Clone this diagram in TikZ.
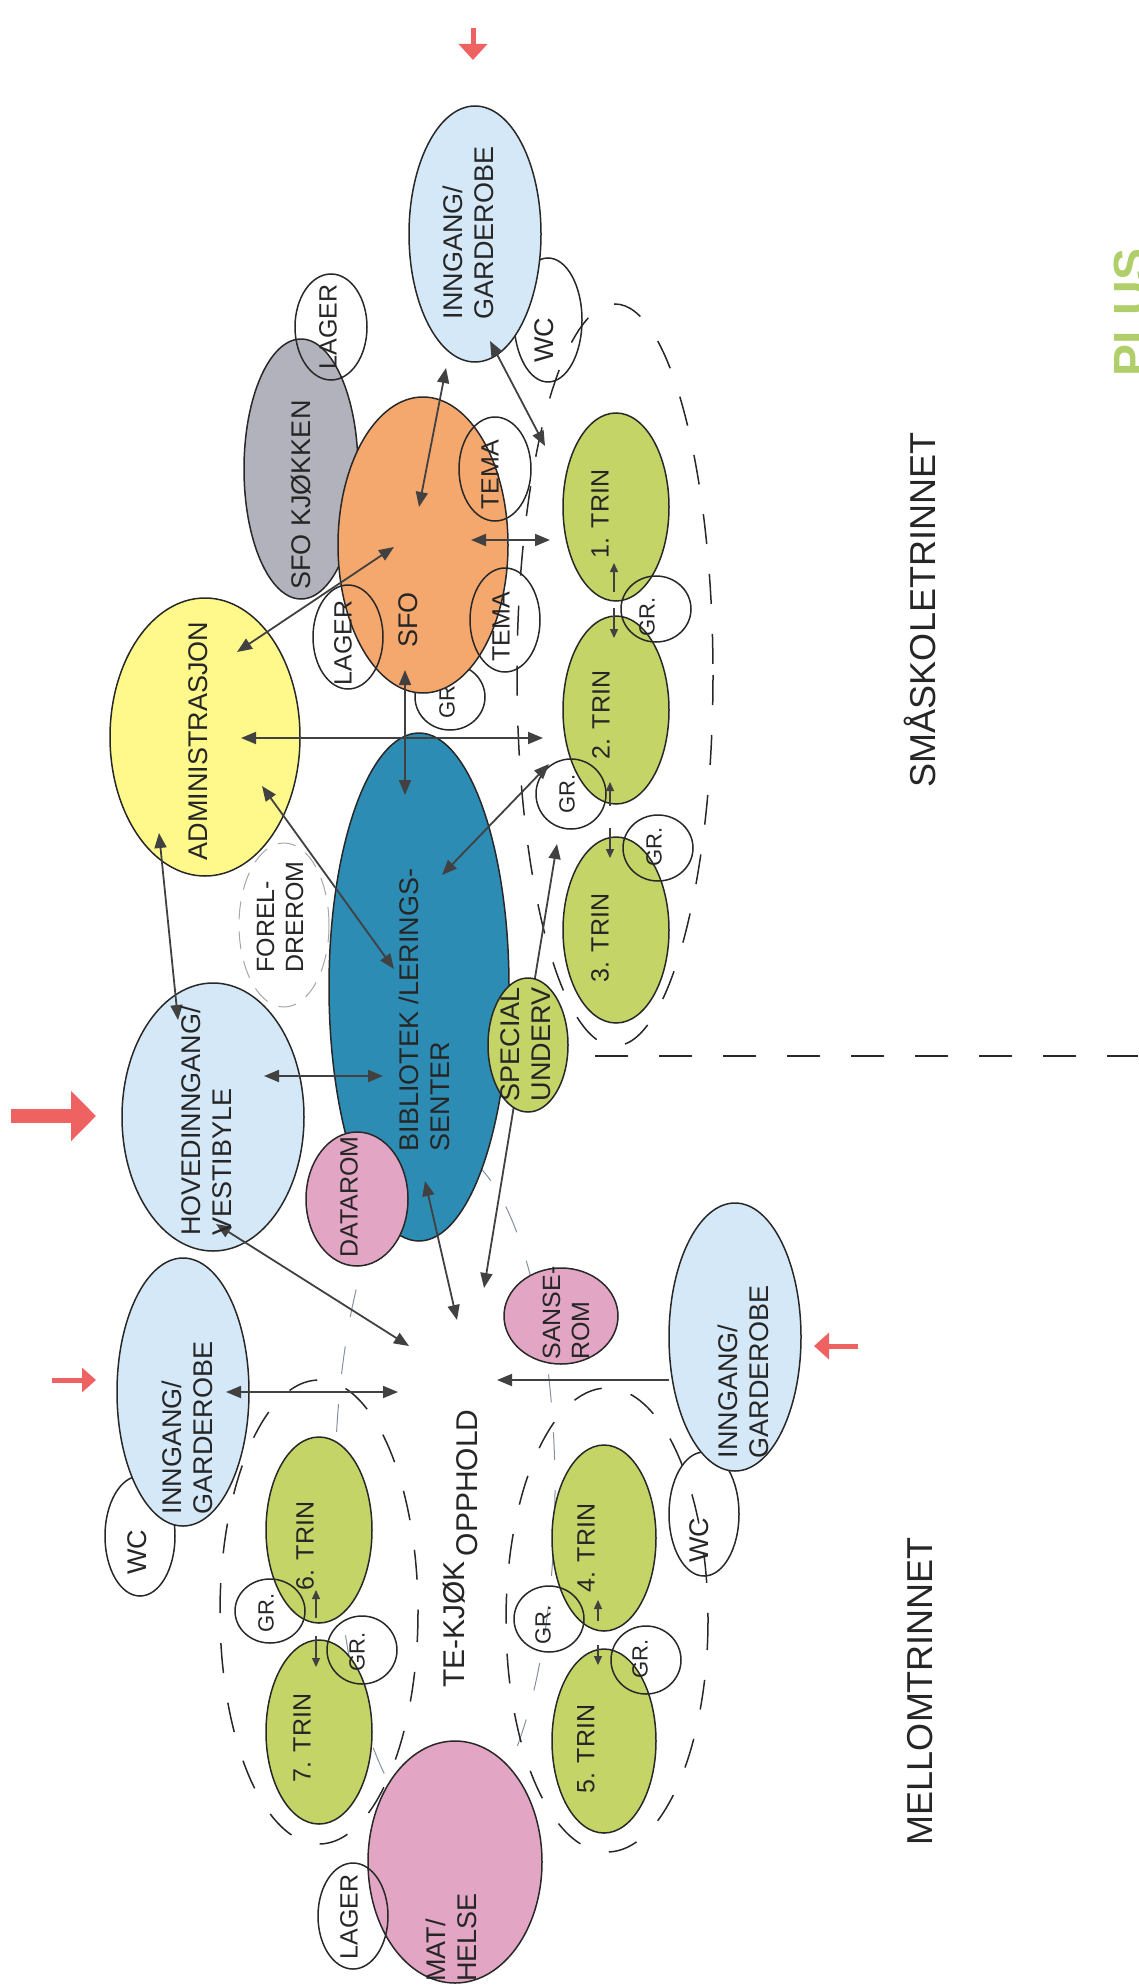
\documentclass[tikz,border=0pt]{standalone}
\usepackage{fontspec}
\setmainfont{Liberation Sans}
\usetikzlibrary{shapes.geometric,arrows.meta}
\definecolor{lblue}{RGB}{213,232,247}
\definecolor{yel}{RGB}{255,249,140}
\definecolor{ora}{RGB}{245,168,110}
\definecolor{kgrey}{RGB}{178,178,188}
\definecolor{teal2}{RGB}{44,140,180}
\definecolor{grn}{RGB}{196,212,102}
\definecolor{pnk}{RGB}{226,166,196}
\definecolor{redc}{RGB}{238,98,98}
\definecolor{linec}{RGB}{40,40,40}
\definecolor{arrc}{RGB}{65,65,65}
\definecolor{faint}{RGB}{130,145,160}
\definecolor{plusg}{RGB}{176,207,106}
\begin{document}
\begin{tikzpicture}[x=1pt,y=-1pt,
  room/.style={ellipse, draw=linec, line width=1.5pt, inner sep=0pt},
  lbl/.style={rotate=90, align=left, inner sep=0pt, text=black!85,
    font=\fontsize{27}{31}\selectfont},
  smlbl/.style={lbl, font=\fontsize{25}{29}\selectfont},
  grlbl/.style={lbl, font=\fontsize{22}{26}\selectfont},
  biglbl/.style={lbl, font=\fontsize{36}{40}\selectfont},
  conn/.style={draw=arrc, line width=1.8pt,
    {Triangle[length=15pt,width=12pt]}-{Triangle[length=15pt,width=12pt]}},
  oneway/.style={draw=arrc, line width=1.8pt, -{Triangle[length=15pt,width=12pt]}},
  tiny/.style={draw=arrc, line width=1.3pt, -{Triangle[length=9pt,width=8pt]}},
  groupline/.style={draw=linec, line width=1.5pt, dash pattern=on 30pt off 30pt},
  faintline/.style={draw=faint, line width=1pt, dash pattern=on 28pt off 30pt}
]
\useasboundingbox (0,0) rectangle (1138,1988);
\clip (0,0) rectangle (1138,1988);

% group outlines
\draw[faintline] (445,1490) ellipse [x radius=110, y radius=340];
\draw[groupline] (615,675) ellipse [x radius=98, y radius=371];
\draw[groupline] (319,1612) ellipse [x radius=99, y radius=232];
\draw[groupline] (607,1620) ellipse [x radius=101, y radius=232];
\coordinate (hl1) at (595,1056);
\coordinate (hl2) at (1138,1056);
\draw[draw=linec, line width=1.5pt, dash pattern=on 33pt off 31pt] (hl1) -- (hl2);

% rooms lying underneath others
\node[room, minimum width=68pt, minimum height=124pt] (wcT) at (548,320) {};
\node[room, minimum width=70pt, minimum height=120pt] (wcL) at (140,1536) {};
\node[room, minimum width=70pt, minimum height=124pt] (wcR) at (704,1514) {};
\node[room, minimum width=70pt, minimum height=66pt] (grS) at (450,697) {};
\node[grlbl] (grS-t) at (447,699) {GR.};
\node[room, draw=gray!70, line width=1pt, dash pattern=on 18pt off 12pt,
  minimum width=90pt, minimum height=164pt] (forel) at (284,925) {};

% filled rooms
\node[room, fill=lblue, minimum width=132pt, minimum height=256pt] (inngT) at (475,234) {};
\node[room, fill=lblue, minimum width=132pt, minimum height=268pt] (inngL) at (183,1392) {};
\node[room, fill=lblue, minimum width=132pt, minimum height=268pt] (inngR) at (735,1337) {};
\node[room, fill=kgrey, minimum width=114pt, minimum height=260pt] (kjokken) at (301,469) {};
\node[room, minimum width=72pt, minimum height=106pt] (lagerT) at (331,327) {};
\node[room, fill=ora, minimum width=170pt, minimum height=296pt] (sfo) at (423,545) {};
\node[room, minimum width=72pt, minimum height=104pt] (temaA) at (495,469) {};
\node[room, minimum width=70pt, minimum height=104pt] (temaB) at (505,620) {};
\node[room, minimum width=70pt, minimum height=104pt] (lagerS) at (348,637) {};
\node[room, fill=yel, minimum width=190pt, minimum height=278pt] (admin) at (205,737) {};
\node[room, fill=lblue, minimum width=182pt, minimum height=268pt] (hoved) at (213,1117) {};
\node[room, fill=teal2, minimum width=180pt, minimum height=508pt] (biblio) at (419,987) {};
\node[room, fill=pnk, minimum width=102pt, minimum height=134pt] (datarom) at (357,1199) {};
\node[room, fill=pnk, minimum width=114pt, minimum height=96pt] (sanse) at (561,1316) {};
\node[room, fill=grn, minimum width=106pt, minimum height=188pt] (trin1) at (616,507) {};
\node[room, fill=grn, minimum width=106pt, minimum height=188pt] (trin2) at (616,710) {};
\node[room, fill=grn, minimum width=106pt, minimum height=186pt] (trin3) at (616,930) {};
\node[room, minimum width=70pt, minimum height=66pt] (gr12) at (656,609) {};
\node[room, minimum width=70pt, minimum height=70pt] (gr2) at (571,794) {};
\node[room, minimum width=70pt, minimum height=66pt] (gr3) at (658,848) {};
\node[room, fill=grn, minimum width=106pt, minimum height=186pt] (trin6) at (319,1530) {};
\node[room, fill=grn, minimum width=106pt, minimum height=184pt] (trin7) at (319,1732) {};
\node[room, minimum width=70pt, minimum height=64pt] (gr6) at (270,1611) {};
\node[room, minimum width=70pt, minimum height=68pt] (gr7) at (362,1650) {};
\node[room, fill=grn, minimum width=104pt, minimum height=186pt] (trin4) at (604,1538) {};
\node[room, fill=grn, minimum width=104pt, minimum height=184pt] (trin5) at (604,1741) {};
\node[room, minimum width=70pt, minimum height=66pt] (gr4) at (549,1619) {};
\node[room, minimum width=70pt, minimum height=68pt] (gr5) at (646,1660) {};
\node[room, fill=pnk, minimum width=174pt, minimum height=242pt] (mat) at (455,1862) {};
\node[room, minimum width=70pt, minimum height=106pt] (lagerB) at (353,1916) {};

% line under SPECIAL UNDERV
\coordinate (a11s) at (557,844);
\coordinate (a11e) at (484,1288);
\draw[conn] (a11s) -- (a11e);
\node[room, fill=grn, minimum width=80pt, minimum height=134pt] (special) at (528,1045) {};

% connectors
\coordinate (a1s) at (446,368);  \coordinate (a1e) at (419,507);
\coordinate (a2s) at (490,341);  \coordinate (a2e) at (545,446);
\coordinate (a3s) at (471,540);  \coordinate (a3e) at (550,540);
\coordinate (a4s) at (237,652);  \coordinate (a4e) at (394,547);
\coordinate (a7s) at (241,738);  \coordinate (a7e) at (543,738);
\coordinate (a8s) at (405,670);  \coordinate (a8e) at (405,795);
\coordinate (a9s) at (262,786);  \coordinate (a9e) at (394,969);
\coordinate (a10s) at (442,875); \coordinate (a10e) at (549,764);
\coordinate (a12s) at (159,833); \coordinate (a12e) at (178,1020);
\coordinate (a13s) at (264,1076); \coordinate (a13e) at (383,1076);
\coordinate (a14s) at (216,1224); \coordinate (a14e) at (409,1346);
\coordinate (a15s) at (425,1181); \coordinate (a15e) at (457,1320);
\coordinate (a16s) at (226,1392); \coordinate (a16e) at (398,1392);
\coordinate (a17s) at (669,1380); \coordinate (a17e) at (497,1380);
\draw[conn] (a1s) -- (a1e);
\draw[conn] (a2s) -- (a2e);
\draw[conn] (a3s) -- (a3e);
\draw[conn] (a4s) -- (a4e);
\draw[conn] (a7s) -- (a7e);
\draw[conn] (a8s) -- (a8e);
\draw[conn] (a9s) -- (a9e);
\draw[conn] (a10s) -- (a10e);
\draw[conn] (a12s) -- (a12e);
\draw[conn] (a13s) -- (a13e);
\draw[conn] (a14s) -- (a14e);
\draw[conn] (a15s) -- (a15e);
\draw[conn] (a16s) -- (a16e);
\draw[oneway] (a17s) -- (a17e);

% small arrows between classes
\coordinate (t1a) at (614,592); \coordinate (t1b) at (614,563);
\coordinate (t2a) at (614,608); \coordinate (t2b) at (614,638);
\coordinate (t3a) at (610,806); \coordinate (t3b) at (610,782);
\coordinate (t4a) at (610,828); \coordinate (t4b) at (610,858);
\coordinate (t5a) at (316,1618); \coordinate (t5b) at (316,1590);
\coordinate (t6a) at (316,1636); \coordinate (t6b) at (316,1667);
\coordinate (t7a) at (598,1621); \coordinate (t7b) at (598,1600);
\coordinate (t8a) at (598,1645); \coordinate (t8b) at (598,1665);
\draw[tiny] (t1a) -- (t1b);
\draw[tiny] (t2a) -- (t2b);
\draw[tiny] (t3a) -- (t3b);
\draw[tiny] (t4a) -- (t4b);
\draw[tiny] (t5a) -- (t5b);
\draw[tiny] (t6a) -- (t6b);
\draw[tiny] (t7a) -- (t7b);
\draw[tiny] (t8a) -- (t8b);

% red entrance arrows
\coordinate (r1a) at (473,28);   \coordinate (r1b) at (473,60);
\coordinate (r2a) at (11,1116);  \coordinate (r2b) at (96,1116);
\coordinate (r3a) at (52,1380);  \coordinate (r3b) at (96,1380);
\coordinate (r4a) at (858,1346); \coordinate (r4b) at (814,1346);
\draw[redc, line width=5pt, -{Triangle[length=16pt,width=28pt]}] (r1a) -- (r1b);
\draw[redc, line width=14pt, -{Triangle[length=25pt,width=49pt]}] (r2a) -- (r2b);
\draw[redc, line width=5pt, -{Triangle[length=14pt,width=24pt]}] (r3a) -- (r3b);
\draw[redc, line width=5pt, -{Triangle[length=15pt,width=26pt]}] (r4a) -- (r4b);

% labels
\node[lbl] (inngT-t) at (468,233) {INNGANG/\\GARDEROBE};
\node[lbl] (wcT-t) at (544,340) {WC};
\node[smlbl] (lagerT-t) at (328,327) {LAGER};
\node[lbl] (kjokken-t) at (301,495) {SFO KJØKKEN};
\node[lbl] (sfo-t) at (408,620) {SFO};
\node[smlbl] (temaA-t) at (490,475) {TEMA};
\node[smlbl] (temaB-t) at (501,627) {TEMA};
\node[smlbl] (lagerS-t) at (343,643) {LAGER};
\node[lbl] (admin-t) at (198,741) {ADMINISTRASJON};
\node[lbl] (hoved-t) at (206,1121) {HOVEDINNGANG/\\VESTIBYLE};
\node[lbl] (biblio-t) at (424,1010) {BIBLIOTEK /LERINGS-\\SENTER};
\node[smlbl] (forel-t) at (280,917) {FOREL-\\DREROM};
\node[smlbl] (datarom-t) at (349,1197) {DATAROM};
\node[lbl] (special-t) at (526,1044) {SPECIAL\\UNDERV};
\node[smlbl] (sanse-t) at (566,1313) {SANSE-\\ROM};
\node[smlbl] (trin1-t) at (600,514) {1. TRIN};
\node[smlbl] (trin2-t) at (601,715) {2. TRIN};
\node[smlbl] (trin3-t) at (600,938) {3. TRIN};
\node[grlbl] (gr12-t) at (647,617) {GR.};
\node[grlbl] (gr2-t) at (567,794) {GR.};
\node[grlbl] (gr3-t) at (654,847) {GR.};
\node[lbl] (inngL-t) at (187,1428) {INNGANG/\\GARDEROBE};
\node[lbl] (wcL-t) at (137,1552) {WC};
\node[smlbl] (trin6-t) at (305,1546) {6. TRIN};
\node[grlbl] (gr6-t) at (266,1613) {GR.};
\node[grlbl] (gr7-t) at (357,1652) {GR.};
\node[smlbl] (trin7-t) at (302,1738) {7. TRIN};
\node[lbl, anchor=base west, font=\fontsize{30}{34}\selectfont] (opphold-t) at (464,1688)
  {TE-KJØK\raisebox{-13pt}{\,OPPHOLD}};
\node[smlbl] (trin4-t) at (586,1548) {4. TRIN};
\node[grlbl] (gr4-t) at (543,1625) {GR.};
\node[grlbl] (gr5-t) at (640,1659) {GR.};
\node[smlbl] (trin5-t) at (586,1749) {5. TRIN};
\node[lbl] (inngR-t) at (743,1372) {INNGANG/\\GARDEROBE};
\node[lbl] (wcR-t) at (699,1540) {WC};
\node[lbl, anchor=west] (mat-t) at (451,1982) {MAT/\\HELSE};
\node[smlbl] (lagerB-t) at (349,1917) {LAGER};
\node[biglbl] (smaa-t) at (920,610) {SMÅSKOLETRINNET};
\node[biglbl] (mellom-t) at (920,1691) {MELLOMTRINNET};
\node[rotate=90, anchor=base west, inner sep=0pt, text=plusg,
  font=\fontsize{48}{52}\selectfont\bfseries] (plus-t) at (1147,377) {PLUS};
\end{tikzpicture}
\end{document}
